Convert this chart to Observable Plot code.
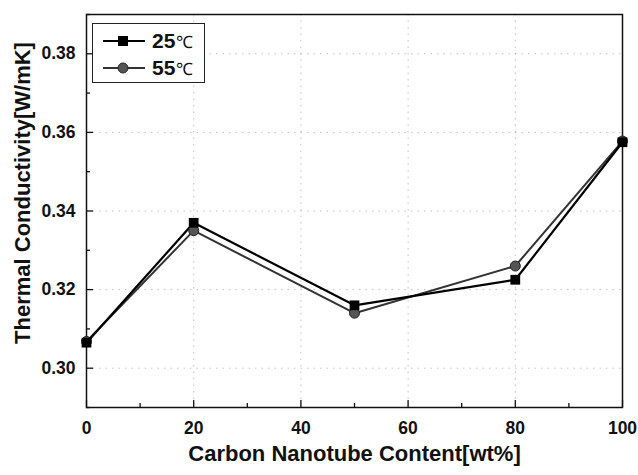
<!DOCTYPE html>
<html>
<head>
<meta charset="utf-8">
<script src="https://cdn.jsdelivr.net/npm/d3@7"></script>
<script src="https://cdn.jsdelivr.net/npm/@observablehq/plot@0.6"></script>
<style>
  html, body { margin: 0; padding: 0; background: #fff; }
  #wrap { position: relative; width: 638px; height: 475px; }
  #legend { position: absolute; left: 92px; top: 23px; width: 113px; height: 60px;
    border: 1px solid #222; box-sizing: border-box; background: #fff;
    font-family: "Liberation Sans", Arial, sans-serif; font-weight: bold; font-size: 21px; color: #111; }
  .row { position: absolute; left: 0; height: 24px; display: flex; align-items: center; }
  .row svg { margin-left: 8px; margin-right: 5px; }
  .deg { font-weight: normal; font-size: 17px; margin-left: 1px; }
</style>
</head>
<body>
<div id="wrap"></div>
<script>
const contents = [0, 20, 50, 80, 100];
const k25 = [0.3065, 0.337, 0.316, 0.3225, 0.3575];
const k55 = [0.3068, 0.335, 0.314, 0.326, 0.3578];
const seriesNames = ["25℃", "55℃"];
const xMajor = [0, 20, 40, 60, 80, 100];
const xMinor = [10, 30, 50, 70, 90];
const yMajor = [0.30, 0.32, 0.34, 0.36, 0.38];
const yMinor = [0.29, 0.31, 0.33, 0.35, 0.37, 0.39];

const d25 = contents.map((c, i) => ({x: c, y: k25[i]}));
const d55 = contents.map((c, i) => ({x: c, y: k55[i]}));

const W = 638, H = 475, mt = 14, mb = 68, ml = 86, mr = 16;
const fh = H - mt - mb, fw = W - ml - mr;
const font = "Liberation Sans, Arial, sans-serif";

const chart = Plot.plot({
  width: W, height: H,
  marginTop: mt, marginBottom: mb, marginLeft: ml, marginRight: mr,
  style: {fontFamily: font, fontWeight: "bold", color: "#111", background: "#fff"},
  x: {domain: [0, 100], axis: null},
  y: {domain: [0.29, 0.39], axis: null},
  marks: [
    Plot.gridX(xMajor.slice(1, -1), {stroke: "#999", strokeOpacity: 0.6, strokeDasharray: "1.5,5"}),
    Plot.gridY(yMajor, {stroke: "#999", strokeOpacity: 0.6, strokeDasharray: "1.5,5"}),
    Plot.text(xMajor, {x: d => d, frameAnchor: "bottom", lineAnchor: "top", dy: 14, text: d => String(d), fontSize: 17.5, fontWeight: "bold", fill: "#111"}),
    Plot.text(yMajor, {y: d => d, frameAnchor: "left", textAnchor: "end", dx: -11, text: d3.format(".2f"), fontSize: 17.5, fontWeight: "bold", fill: "#111"}),
    Plot.tickX(xMajor, {x: d => d, insetTop: fh - 7, stroke: "#111", strokeWidth: 1.3}),
    Plot.tickX(xMinor, {x: d => d, insetTop: fh - 4, stroke: "#111", strokeWidth: 1.3}),
    Plot.tickY(yMajor, {y: d => d, insetRight: fw - 7, stroke: "#111", strokeWidth: 1.3}),
    Plot.tickY(yMinor, {y: d => d, insetRight: fw - 4, stroke: "#111", strokeWidth: 1.3}),
    Plot.frame({stroke: "#111", strokeWidth: 1.5}),
    Plot.line(d55, {x: "x", y: "y", stroke: "#333", strokeWidth: 2}),
    Plot.line(d25, {x: "x", y: "y", stroke: "#000", strokeWidth: 2.2}),
    Plot.dot(d55, {x: "x", y: "y", r: 5, fill: "#555", stroke: "#222", strokeWidth: 1}),
    Plot.dot(d25, {x: "x", y: "y", symbol: "square", r: 5.5, fill: "#000"}),
    Plot.text(["Carbon Nanotube Content[wt%]"], {frameAnchor: "bottom", dy: 53, fontSize: 22, fontWeight: "bold", fill: "#111"}),
    Plot.text(["Thermal Conductivity[W/mK]"], {frameAnchor: "left", textAnchor: "middle", dx: -64, dy: -18, rotate: -90, fontSize: 22, fontWeight: "bold", fill: "#111"})
  ]
});

const wrap = document.getElementById("wrap");
wrap.appendChild(chart);

const legend = document.createElement("div");
legend.id = "legend";
const swatches = [
  `<svg width="46" height="14"><line x1="2" y1="7" x2="44" y2="7" stroke="#000" stroke-width="2.2"/><rect x="17" y="2" width="10" height="10" fill="#000"/></svg>`,
  `<svg width="46" height="14"><line x1="2" y1="7" x2="44" y2="7" stroke="#333" stroke-width="2"/><circle cx="22" cy="7" r="5" fill="#555" stroke="#222"/></svg>`
];
seriesNames.forEach((name, i) => {
  const row = document.createElement("div");
  row.className = "row";
  row.style.top = (5 + i * 27) + "px";
  const num = name.replace("℃", "");
  row.innerHTML = swatches[i] + `<span>${num}</span><span class="deg">℃</span>`;
  legend.appendChild(row);
});
wrap.appendChild(legend);
</script>
</body>
</html>
